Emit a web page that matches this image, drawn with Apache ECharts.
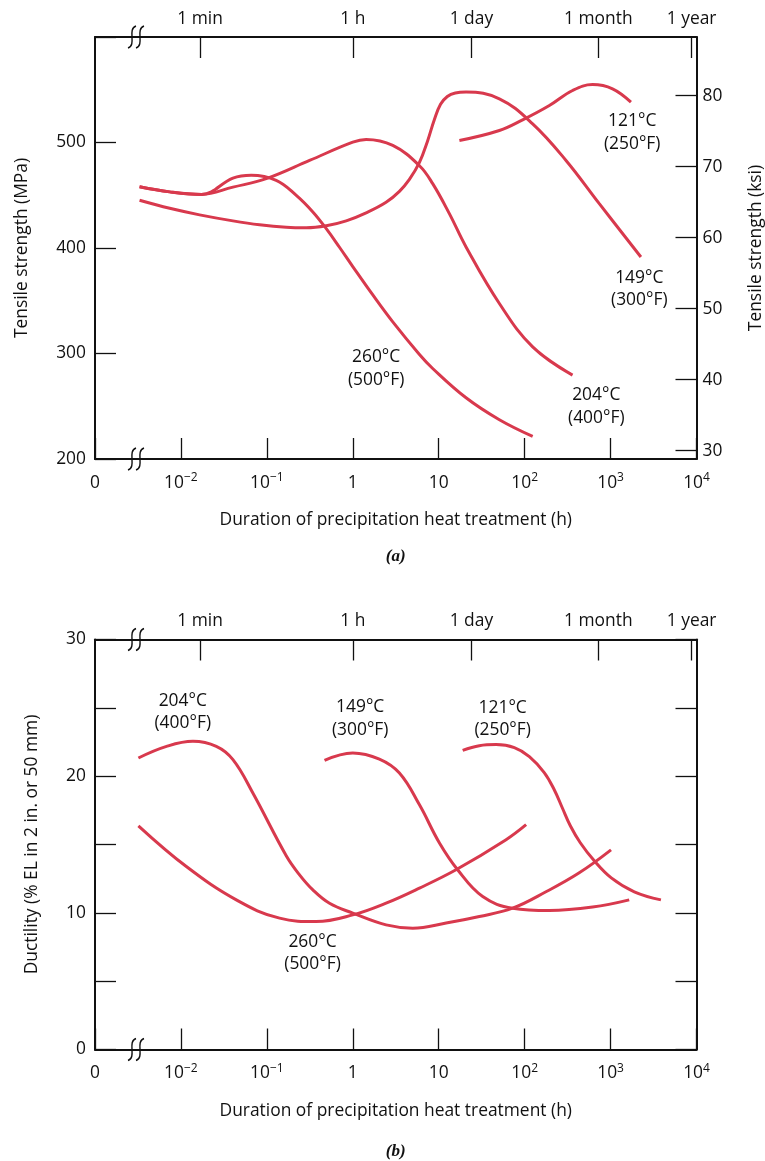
<!DOCTYPE html>
<html><head><meta charset="utf-8">
<script src="https://cdn.jsdelivr.net/npm/echarts@6/dist/echarts.min.js"></script>
<style>html,body{margin:0;padding:0;background:#fff}#c{width:765px;height:1161px}</style>
</head><body><div id="c"></div><script>
// ---------- DATA (x = hours, y = value) ----------
// (a) Tensile strength, MPa
const tensile121 = [[17.4,501.9],[50.8,511.4],[94.8,521.5],[194,535.1],[361,549.3],[618,554.9],[1054,550.9],[1726,538.2]];
const tensile149 = [[0.0033,445.2],[0.0074,437.6],[0.0165,431.4],[0.0403,425.7],[0.0822,422.0],[0.168,419.6],[0.287,419.1],[0.491,421.0],[0.838,425.7],[1.43,433.3],[2.44,443.3],[3.49,453.7],[4.56,465.0],[5.97,481.1],[7.39,501.0],[8.91,521.8],[10.5,536.2],[12.6,543.6],[15.6,546.9],[20.8,547.8],[50.8,541.4],[124,517.7],[303,483.0],[739,442.0],[2254,391.5]];
const tensile204 = [[0.0033,458],[0.0074,453.2],[0.0173,450.8],[0.0403,457.7],[0.0984,465.7],[0.314,483.0],[1.0,500.3],[1.43,502.9],[2.92,497.2],[5.97,478.0],[8.51,461.0],[13.3,432.6],[20.8,401.0],[50.8,347.4],[124,306.3],[361,279.5]];
const tensile260 = [[0.0033,458],[0.0074,453.2],[0.0173,450.8],[0.0403,466.3],[0.0659,469.0],[0.1285,464.1],[0.22,449.9],[0.343,434.2],[0.491,418.3],[0.70,400.7],[1.0,382.4],[1.71,355.5],[2.92,330.0],[5.97,299.1],[8.51,285.8],[20.8,258.0],[50.8,237.2],[124,221.4]];
// (b) Ductility, % EL
const duct121 = [[19.0,21.89],[29.7,22.23],[46.5,22.31],[75.9,22.09],[113.5,21.43],[169,20.26],[221,19.01],[274,17.69],[340,16.37],[444,15.13],[646,13.81],[1019,12.56],[1888,11.54],[3855,10.95]];
const duct149 = [[0.469,21.16],[1.0,21.70],[2.04,21.25],[3.49,20.23],[5.97,17.9],[10.2,15.11],[16.6,13.15],[32.5,11.19],[72.4,10.34],[194,10.17],[618,10.42],[1648,10.95]];
const duct204 = [[0.0032,21.33],[0.0068,22.18],[0.0138,22.55],[0.0258,22.18],[0.0403,21.21],[0.0687,18.77],[0.168,14.18],[0.240,12.78],[0.343,11.68],[0.536,10.70],[1.0,9.98],[2.44,9.12],[4.99,8.88],[12.2,9.25],[29.7,9.73],[72.4,10.34],[177,11.54],[432,12.93],[1012,14.61]];
const duct260 = [[0.0032,16.37],[0.01156,13.39],[0.0441,10.95],[0.1406,9.61],[0.375,9.36],[1.0,9.85],[2.44,10.71],[5.97,11.81],[15.9,13.15],[60.8,15.35],[104,16.45]];
// curve labels: [text, hours, value]
const annotA = [['121°C\n(250°F)',1786,509.5],['149°C\n(300°F)',2158,360.9],['204°C\n(400°F)',682,249.5],['260°C\n(500°F)',1.87,285.8]];
const annotB = [['204°C\n(400°F)',0.0105,24.69],['149°C\n(300°F)',1.22,24.23],['121°C\n(250°F)',55.5,24.18],['260°C\n(500°F)',0.34,7.05]];
// axes
const calendarHours = [1/60, 1, 24, 720, 8760];
const calendarLabels = ['1 min','1 h','1 day','1 month','1 year'];
const ksiTicks = [30,40,50,60,70,80];
const xTitle = 'Duration of precipitation heat treatment (h)';

// ---------- STYLE ----------
const RED = '#d8394d', INK = '#111', FONT = 'Open Sans', FS = 17.4;
const txt = {color: INK, fontFamily: FONT, fontSize: FS, lineHeight: 22};
const lineAx = {show: true, onZero: false, lineStyle: {color: INK, width: 2}};
const tickIn = {show: true, inside: true, length: 21, lineStyle: {color: INK, width: 1.3}};

function decadeLabel(v) {
  const e = Math.round(Math.log10(v));
  if (e === -3) return '0';
  if (e === 0) return '1';
  if (e === 1) return '10';
  return '{b|10}{s|' + (e < 0 ? '\u2212' : '') + Math.abs(e) + '}';
}
function xBottom(g, gap) {
  return {type: 'log', logBase: 10, gridIndex: g, position: 'bottom', min: 0.001, max: 10000,
    name: xTitle, nameLocation: 'middle', nameGap: gap, nameTextStyle: Object.assign({}, txt),
    axisLine: lineAx, axisTick: tickIn, splitLine: {show: false}, minorTick: {show: false},
    axisLabel: Object.assign({}, txt, {margin: 13, formatter: decadeLabel,
      rich: {b: {fontFamily: FONT, fontSize: FS, lineHeight: 22, color: INK},
             s: {fontFamily: FONT, fontSize: 12, lineHeight: 12, color: INK, verticalAlign: 'top'}}})};
}
const calVals = calendarHours.map(h => Math.log10(h));
function xTop(g) {
  return {type: 'value', gridIndex: g, position: 'top', min: -3, max: 4,
    axisLine: lineAx, splitLine: {show: false},
    axisTick: Object.assign({}, tickIn, {customValues: calVals}),
    axisLabel: Object.assign({}, txt, {margin: 7, customValues: calVals,
      formatter: v => { const i = calVals.findIndex(c => Math.abs(c - v) < 1e-6); return i < 0 ? '' : calendarLabels[i]; }})};
}
function curve(data, xi, yi) {
  return {type: 'line', xAxisIndex: xi, yAxisIndex: yi, data: data, smooth: 0.4, symbol: 'none',
    lineStyle: {color: RED, width: 3}, silent: true, z: 3};
}

const chart = echarts.init(document.getElementById('c'), null, {renderer: 'canvas'});
chart.setOption({
  animation: false,
  backgroundColor: '#fff',
  grid: [{left: 95, top: 37, width: 601.5, height: 422, containLabel: false, outerBoundsMode: 'none'},
         {left: 95, top: 639.5, width: 601.5, height: 410, containLabel: false, outerBoundsMode: 'none'}],
  xAxis: [xBottom(0, 50), xTop(0), xBottom(1, 51), xTop(1)],
  yAxis: [
    {type: 'value', gridIndex: 0, position: 'left', min: 200, max: 600, interval: 100,
     name: 'Tensile strength (MPa)', nameLocation: 'middle', nameGap: 62, nameTextStyle: Object.assign({}, txt),
     axisLine: lineAx, axisTick: tickIn, splitLine: {show: false},
     axisLabel: Object.assign({}, txt, {margin: 9, formatter: v => v === 600 ? '' : String(v)})},
    {type: 'value', gridIndex: 0, position: 'right', min: 28.83, max: 88.27,
     name: 'Tensile strength (ksi)', nameLocation: 'middle', nameGap: 49, nameTextStyle: Object.assign({}, txt),
     axisLine: lineAx, splitLine: {show: false},
     axisTick: Object.assign({}, tickIn, {customValues: ksiTicks}),
     axisLabel: Object.assign({}, txt, {margin: 6, customValues: ksiTicks})},
    {type: 'value', gridIndex: 1, position: 'left', min: 0, max: 30, interval: 5,
     name: 'Ductility (% EL in 2 in. or 50 mm)', nameLocation: 'middle', nameGap: 52, nameTextStyle: Object.assign({}, txt),
     axisLine: lineAx, axisTick: tickIn, splitLine: {show: false},
     axisLabel: Object.assign({}, txt, {margin: 9, formatter: v => v % 10 === 0 ? String(v) : ''})},
    {type: 'value', gridIndex: 1, position: 'right', min: 0, max: 30, interval: 5,
     axisLine: lineAx, axisTick: tickIn, splitLine: {show: false}, axisLabel: {show: false}}
  ],
  series: [
    curve(tensile121, 0, 0), curve(tensile149, 0, 0), curve(tensile204, 0, 0), curve(tensile260, 0, 0),
    curve(duct121, 2, 2), curve(duct149, 2, 2), curve(duct204, 2, 2), curve(duct260, 2, 2)
  ]
});

// axis break marks, curve labels and panel captions
function breakMark(cx, cy) {
  const els = [];
  [-4, 4].forEach(dx => {
    const x = cx + dx;
    els.push({type: 'bezierCurve', z: 10, silent: true,
      shape: {x1: x + 4, y1: cy - 11, cpx1: x - 5, cpy1: cy - 8, cpx2: x + 5, cpy2: cy + 8, x2: x - 4, y2: cy + 11},
      style: {stroke: INK, lineWidth: 1.4, fill: null}});
  });
  return els;
}
const g = [];
[[0, 0, 200, 600, annotA], [2, 2, 0, 30, annotB]].forEach(([xi, yi, y0, y1, ann], k) => {
  const bx = chart.convertToPixel({xAxisIndex: xi}, 0.003);
  const pb = chart.convertToPixel({yAxisIndex: yi}, y0);
  const pt = chart.convertToPixel({yAxisIndex: yi}, y1);
  g.push(...breakMark(bx, pb), ...breakMark(bx, pt));
  ann.forEach(a => {
    g.push({type: 'text', silent: true, z: 5,
      x: chart.convertToPixel({xAxisIndex: xi}, a[1]), y: chart.convertToPixel({yAxisIndex: yi}, a[2]),
      style: {text: a[0], fill: INK, fontFamily: FONT, fontSize: FS, lineHeight: 22.5, align: 'center', verticalAlign: 'middle'}});
  });
  const cx = (chart.convertToPixel({xAxisIndex: xi}, 0.001) + chart.convertToPixel({xAxisIndex: xi}, 10000)) / 2;
  g.push({type: 'text', silent: true, x: cx, y: pb + (k === 0 ? 98 : 102),
    style: {text: k === 0 ? '(a)' : '(b)', fill: INK, font: 'italic bold 17px "Liberation Serif"', align: 'center', verticalAlign: 'middle'}});
});
chart.setOption({graphic: g});
</script></body></html>
